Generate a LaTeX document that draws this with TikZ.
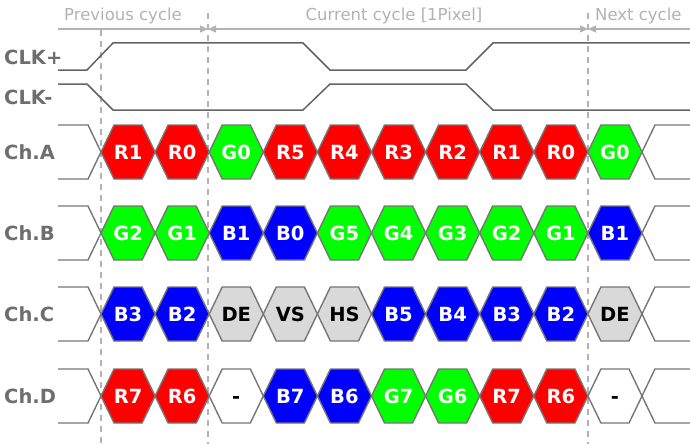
\documentclass[tikz,border=0pt]{standalone}
\usepackage{fontspec}
\setmainfont{DejaVu Sans}
\usetikzlibrary{arrows.meta}

\definecolor{cR}{RGB}{255,0,0}
\definecolor{cG}{RGB}{0,255,0}
\definecolor{cB}{RGB}{0,0,255}
\definecolor{cN}{RGB}{217,217,217}
\definecolor{edge}{RGB}{118,118,118}
\definecolor{wire}{RGB}{100,100,100}
\definecolor{lbl}{RGB}{110,110,110}
\definecolor{light}{RGB}{178,178,178}

\begin{document}
\begin{tikzpicture}[x=1pt, y=-1pt,
    cell/.style={draw=edge, line width=1.4pt, line join=miter},
    bus/.style={draw=edge, line width=1.4pt},
    clk/.style={draw=wire, line width=1.5pt},
    txt/.style={font=\fontsize{19.5}{20}\selectfont\bfseries, inner sep=0pt, anchor=base},
    rowlbl/.style={font=\fontsize{19.5}{20}\selectfont\bfseries, text=lbl, anchor=base west, inner sep=0pt},
    head/.style={font=\fontsize{16.5}{17}\selectfont, text=light, inner sep=0pt, anchor=base},
    span/.style={draw=light, line width=1.2pt, arrows={-}},
    tip/.tip={Triangle[length=8pt, width=7pt]},
    guide/.style={draw=light, line width=1.3pt, dash pattern=on 6pt off 5pt}]
  \useasboundingbox (0,0) rectangle (690,444);

  % cycle borders
  \coordinate (d0) at (101,30);
  \coordinate (d1) at (208,13);
  \coordinate (d2) at (588,13);
  \draw[guide] (d0) -- (101,444);
  \draw[guide] (d1) -- (208,444);
  \draw[guide] (d2) -- (588,444);

  % headers
  \coordinate (t0) at (58,29);
  \coordinate (t1) at (208,29);
  \coordinate (t2) at (588,29);
  \coordinate (t3) at (690,29);
  \draw[span, -tip] (t0) -- (t1);
  \draw[span, tip-tip] (t1) -- (t2);
  \draw[span, tip-] (t2) -- (t3);
  \node[head] (prev) at (123,21) {Previous cycle};
  \node[head] (cur) at (394,21) {Current cycle [1Pixel]};
  \node[head, anchor=base west] (next) at (595,21) {Next cycle};

  % clocks
  \node[rowlbl] (clkp) at (4,64) {CLK+};
  \node[rowlbl] (clkm) at (4,104) {CLK-};
  \draw[clk] (58,70) -- (87,70) -- (113,43) -- (303,43) -- (330,70) -- (466,70) -- (493,43) -- (690,43);
  \draw[clk] (58,84) -- (87,84) -- (113,110) -- (303,110) -- (330,84) -- (466,84) -- (493,110) -- (690,110);

  % data channels
  \foreach \row/\ym/\cells in {
      A/152/{R1/cR/white,R0/cR/white,G0/cG/white,R5/cR/white,R4/cR/white,R3/cR/white,R2/cR/white,R1/cR/white,R0/cR/white,G0/cG/white},
      B/233/{G2/cG/white,G1/cG/white,B1/cB/white,B0/cB/white,G5/cG/white,G4/cG/white,G3/cG/white,G2/cG/white,G1/cG/white,B1/cB/white},
      C/314/{B3/cB/white,B2/cB/white,DE/cN/black,VS/cN/black,HS/cN/black,B5/cB/white,B4/cB/white,B3/cB/white,B2/cB/white,DE/cN/black},
      D/396/{R7/cR/white,R6/cR/white,-/white/black,B7/cB/white,B6/cB/white,G7/cG/white,G6/cG/white,R7/cR/white,R6/cR/white,-/white/black}} {
    \node[rowlbl] (ch\row) at (4,\ym+7) {Ch.\row};
    \draw[bus] (58,\ym-27) -- (88,\ym-27) -- (101,\ym) -- (88,\ym+27) -- (58,\ym+27);
    \draw[bus] (690,\ym-27) -- (655,\ym-27) -- (642,\ym) -- (655,\ym+27) -- (690,\ym+27);
    \foreach \lab/\fc/\tc [count=\i from 0] in \cells {
      \pgfmathsetmacro\xa{101+54.1*\i}
      \draw[cell, fill=\fc] (\xa,\ym) -- ++(13,-27) -- ++(28.1,0) -- ++(13,27)
        -- ++(-13,27) -- ++(-28.1,0) -- cycle;
      \node[txt, text=\tc] (\row\i) at (\xa+27.05,\ym+7) {\lab};
    }
  }
\end{tikzpicture}
\end{document}
